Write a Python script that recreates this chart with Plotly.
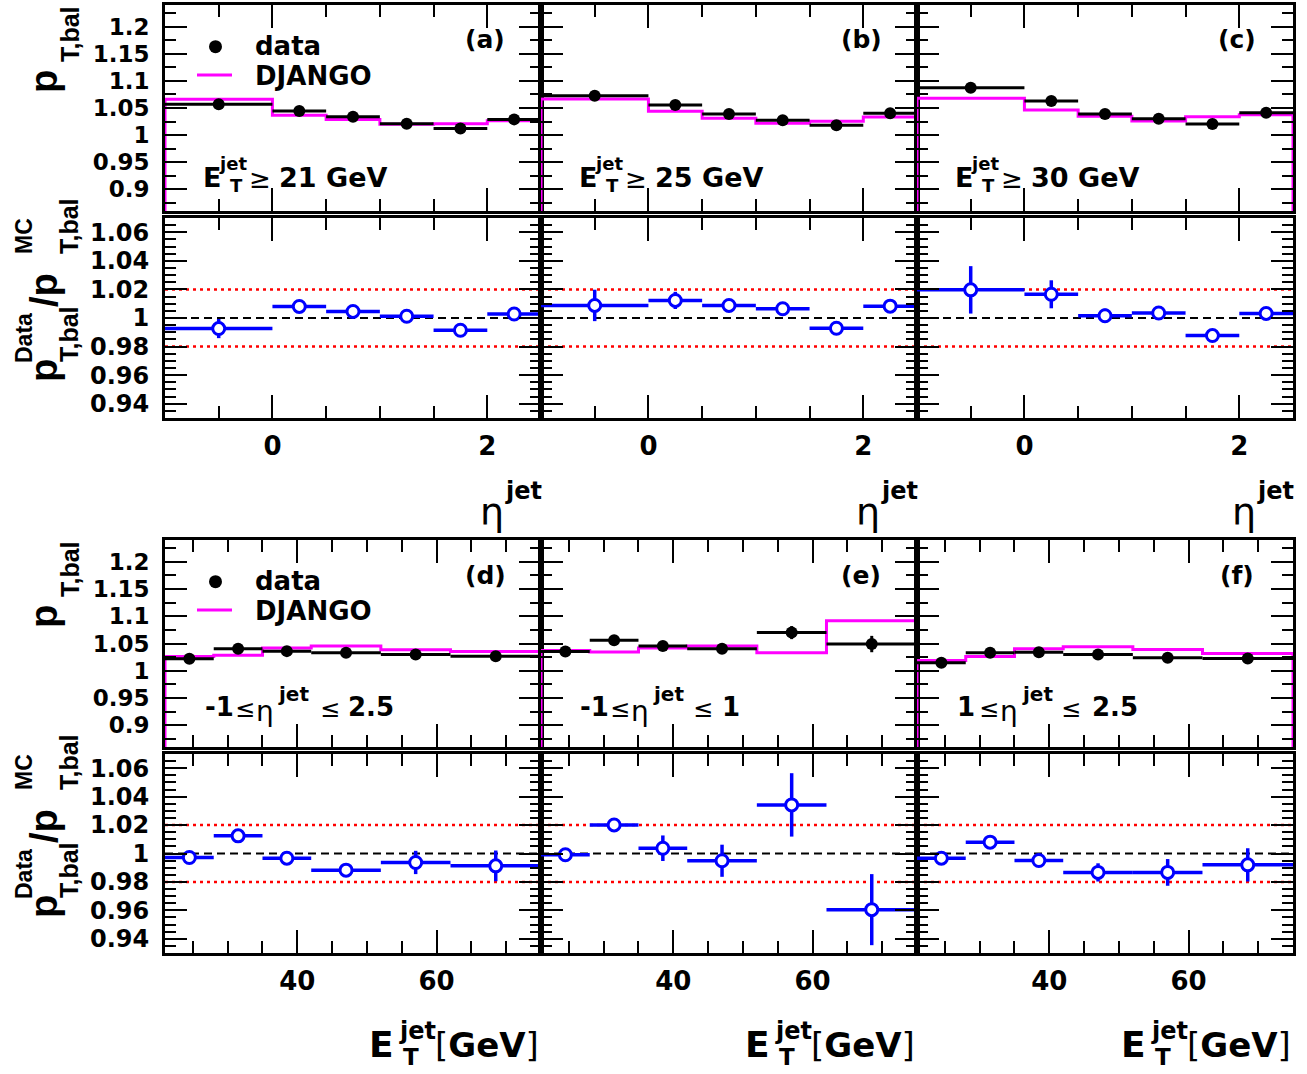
import plotly.graph_objects as go
from plotly.subplots import make_subplots

W, H = 1307, 1074

# ---------------- data ----------------
eta_edges = [-1.0, 0.0, 0.5, 1.0, 1.5, 2.0, 2.5]
et_edges = [21, 28, 35, 42, 52, 62, 75]

# p_T,bal vs eta (panels a, b, c)
data_a = [1.057, 1.0445, 1.034, 1.021, 1.012, 1.029]
data_a_err = [0.003, 0.002, 0.002, 0.002, 0.002, 0.002]
mc_a = [1.066, 1.0365, 1.029, 1.020, 1.021, 1.0266]
ratio_a = [0.9926, 1.0081, 1.0046, 1.0012, 0.9914, 1.0028]
ratio_a_err = [0.0067, 0.002, 0.002, 0.002, 0.002, 0.002]

data_b = [1.0727, 1.0555, 1.0389, 1.0273, 1.018, 1.0402]
data_b_err = [0.004, 0.003, 0.002, 0.002, 0.002, 0.002]
mc_b = [1.0668, 1.044, 1.031, 1.0218, 1.0255, 1.0334]
ratio_b = [1.0088, 1.0123, 1.0088, 1.0065, 0.9928, 1.0083]
ratio_b_err = [0.011, 0.006, 0.002, 0.002, 0.002, 0.002]

data_c = [1.0875, 1.0629, 1.039, 1.0303, 1.0205, 1.0413]
data_c_err = [0.009, 0.004, 0.002, 0.002, 0.002, 0.002]
mc_c = [1.068, 1.0463, 1.035, 1.026, 1.034, 1.0376]
ratio_c = [1.0197, 1.0166, 1.0016, 1.0035, 0.9877, 1.0032]
ratio_c_err = [0.0166, 0.0098, 0.005, 0.002, 0.002, 0.002]

# p_T,bal vs E_T (panels d, e, f)
data_d = [1.0219, 1.0404, 1.036, 1.033, 1.030, 1.0267]
data_d_err = [0.002, 0.002, 0.002, 0.002, 0.003, 0.004]
mc_d = [1.0262, 1.0286, 1.0416, 1.0453, 1.0386, 1.0354]
ratio_d = [0.9972, 1.0124, 0.9967, 0.9883, 0.9937, 0.9913]
ratio_d_err = [0.002, 0.002, 0.002, 0.002, 0.0082, 0.0108]

data_e = [1.0355, 1.0558, 1.0453, 1.0404, 1.070, 1.049]
data_e_err = [0.002, 0.003, 0.003, 0.003, 0.012, 0.015]
mc_e = [1.0373, 1.0342, 1.0416, 1.0453, 1.033, 1.0917]
ratio_e = [0.9991, 1.0201, 1.0037, 0.9949, 1.0342, 0.9605]
ratio_e_err = [0.002, 0.0035, 0.009, 0.0113, 0.0223, 0.025]

data_f = [1.0145, 1.033, 1.0341, 1.0299, 1.0237, 1.0224]
data_f_err = [0.002, 0.002, 0.002, 0.002, 0.003, 0.003]
mc_f = [1.0187, 1.0262, 1.0404, 1.0442, 1.0392, 1.0317]
ratio_f = [0.9967, 1.008, 0.9951, 0.9867, 0.9867, 0.992]
ratio_f_err = [0.002, 0.002, 0.002, 0.0064, 0.0094, 0.0117]

panel_tags = ["(a)", "(b)", "(c)", "(d)", "(e)", "(f)"]
et_cuts = ["21", "25", "30"]
eta_ranges = [("-1", "2.5"), ("-1", "1"), ("1", "2.5")]

upper_range = [0.86, 1.24]
ratio_range = [0.93, 1.07]
upper_tickvals = [0.9, 0.95, 1.0, 1.05, 1.1, 1.15, 1.2]
upper_ticktext = ["0.9", "0.95", "1", "1.05", "1.1", "1.15", "1.2"]
ratio_tickvals = [0.94, 0.96, 0.98, 1.0, 1.02, 1.04, 1.06]
ratio_ticktext = ["0.94", "0.96", "0.98", "1", "1.02", "1.04", "1.06"]
eta_tickvals = [0, 2]
eta_ticktext = ["0", "2"]
et_tickvals = [40, 60]
et_ticktext = ["40", "60"]
ratio_lines = [(1.0, "black", "8px,5px", 2), (1.02, "red", "3px,4px", 2.5), (0.98, "red", "3px,4px", 2.5)]

panels = [
    (data_a, data_a_err, mc_a, ratio_a, ratio_a_err),
    (data_b, data_b_err, mc_b, ratio_b, ratio_b_err),
    (data_c, data_c_err, mc_c, ratio_c, ratio_c_err),
    (data_d, data_d_err, mc_d, ratio_d, ratio_d_err),
    (data_e, data_e_err, mc_e, ratio_e, ratio_e_err),
    (data_f, data_f_err, mc_f, ratio_f, ratio_f_err),
]

FONT = "DejaVu Sans"
TFONT = "Liberation Sans"
MAGENTA = "#ff00ff"
BLUE = "#0000ff"

# ---------------- layout geometry (pixels) ----------------
col_px = [(165, 541), (541, 917), (917, 1293)]
row_px = [(5, 211), (218, 418), (540, 747), (754, 953)]
# x offsets (from panel left) of the eta-range label pieces:
# low value (left), first "≤" (centre), "η" (centre), "jet" (left), second "≤" (centre), high value (left)
eta_label_pos = [(38, 80, 100, 111, 165, 181), (37, 79, 99, 110, 162, 179), (38, 72, 92, 103, 154, 173)]

fig = make_subplots(rows=4, cols=3)


def centers(edges):
    return [(edges[i] + edges[i + 1]) / 2 for i in range(len(edges) - 1)]


def halfw(edges):
    return [(edges[i + 1] - edges[i]) / 2 for i in range(len(edges) - 1)]


for p, (dat, dat_err, mc, rat, rat_err) in enumerate(panels):
    top = p < 3
    col = p % 3 + 1
    urow = 1 if top else 3
    rrow = 2 if top else 4
    edges = eta_edges if top else et_edges
    xc = centers(edges)
    xw = halfw(edges)
    # MC histogram (step line, dropping to zero at the ends)
    hx = [edges[0]] + list(edges) + [edges[-1]]
    hy = [0.0] + list(mc) + [mc[-1], 0.0]
    fig.add_trace(go.Scatter(x=hx, y=hy, mode="lines", line=dict(color=MAGENTA, width=3, shape="hv"),
                             showlegend=False, hoverinfo="skip"), row=urow, col=col)
    fig.add_trace(go.Scatter(x=xc, y=dat, mode="markers",
                             marker=dict(color="black", size=12, symbol="circle"),
                             error_x=dict(type="data", array=xw, color="black", thickness=3, width=0),
                             error_y=dict(type="data", array=dat_err, color="black", thickness=3, width=0),
                             showlegend=False), row=urow, col=col)
    fig.add_trace(go.Scatter(x=xc, y=rat, mode="markers",
                             marker=dict(color="white", size=12, symbol="circle",
                                         line=dict(color=BLUE, width=3)),
                             error_x=dict(type="data", array=xw, color=BLUE, thickness=3.5, width=0),
                             error_y=dict(type="data", array=rat_err, color=BLUE, thickness=3.5, width=0),
                             showlegend=False), row=rrow, col=col)

# axes
for r in range(4):
    for c in range(3):
        n = r * 3 + c + 1
        xa = "xaxis" if n == 1 else f"xaxis{n}"
        ya = "yaxis" if n == 1 else f"yaxis{n}"
        x0, x1 = col_px[c]
        y0, y1 = row_px[r]
        eta = r < 2
        ratio = r in (1, 3)
        common = dict(showline=True, linecolor="black", linewidth=3, mirror="ticks",
                      ticks="inside", tickcolor="black", tickwidth=1.5, showgrid=False,
                      zeroline=False)
        fig.layout[xa].update(
            domain=[x0 / W, x1 / W],
            range=[-1, 2.5] if eta else [21, 75],
            tickmode="array",
            tickvals=eta_tickvals if eta else et_tickvals,
            ticktext=eta_ticktext if eta else et_ticktext,
            ticklen=23,
            minor=dict(ticks="inside", ticklen=12, tickwidth=1.5, tickcolor="black",
                       tickmode="linear", tick0=0, dtick=0.5 if eta else 5),
            showticklabels=ratio,
            tickfont=dict(family=FONT, size=26, color="black", weight="bold"),
            ticklabelstandoff=3,
            **common)
        fig.layout[ya].update(
            domain=[1 - y1 / H, 1 - y0 / H],
            range=ratio_range if ratio else upper_range,
            tickmode="array",
            tickvals=ratio_tickvals if ratio else upper_tickvals,
            ticktext=ratio_ticktext if ratio else upper_ticktext,
            ticklen=22,
            minor=dict(ticks="inside", ticklen=11, tickwidth=1.5, tickcolor="black",
                       tickmode="linear", tick0=0, dtick=0.005 if ratio else 0.025),
            showticklabels=(c == 0),
            tickfont=dict(family=FONT, size=24 if ratio else 23, color="black", weight="bold"),
            ticklabelstandoff=8,
            **common)
        if ratio:
            xr = "x domain" if n == 1 else f"x{n} domain"
            yr = "y" if n == 1 else f"y{n}"
            for val, colr, dash, lw in ratio_lines:
                fig.add_shape(type="line", xref=xr, yref=yr, x0=0, x1=1, y0=val, y1=val,
                              line=dict(color=colr, width=lw, dash=dash), layer="below")


def ann(text, x, y, size, bold=True, angle=0, xanchor="center", yanchor="middle", family=FONT):
    fig.add_annotation(text=text, x=x / W, y=1 - y / H, xref="paper", yref="paper",
                       showarrow=False, textangle=angle, xanchor=xanchor, yanchor=yanchor,
                       font=dict(family=family, size=size, color="black",
                                 weight="bold" if bold else "normal"))


for k in range(3):
    left = col_px[k][0]
    dx = left - 165
    # panel tags
    ann(panel_tags[k], 485 + dx, 40, 25)
    ann(panel_tags[k + 3], 485 + dx, 575, 25)
    # E_T cut labels (top row)
    ann("E", left + 47, 177, 27)
    ann("jet", left + 68, 164, 18)
    ann("T", left + 71, 185, 18)
    ann("≥", left + 95, 179, 26, bold=False)
    ann(f"{et_cuts[k]} GeV", left + 112, 177, 27, xanchor="left")
    # eta range labels (bottom row)
    lo, hi = eta_ranges[k]
    p_lo, p_le1, p_eta, p_jet, p_le2, p_hi = eta_label_pos[k]
    ann(lo, left + p_lo, 707, 26, xanchor="left")
    ann("≤", left + p_le1, 709, 24, bold=False)
    ann("η", left + p_eta, 711, 28, bold=False)
    ann("jet", left + p_jet, 694, 20, xanchor="left")
    ann("≤", left + p_le2, 709, 24, bold=False)
    ann(hi, left + p_hi, 707, 26, xanchor="left")
    # x titles
    ann("η", 492 + dx, 512, 38, bold=False)
    ann("jet", 523 + dx, 491, 24)
    ann("E", 381 + dx, 1044, 36)
    ann("jet", 417 + dx, 1031, 24)
    ann("T", 411 + dx, 1057, 23)
    ann("[<b>GeV</b>]", 487 + dx, 1045, 34, bold=False)

# legends (panels a and d)
for dy in (0, 535):
    fig.add_shape(type="circle", xref="paper", yref="paper",
                  x0=209 / W, x1=222 / W, y0=1 - (53.2 + dy) / H, y1=1 - (40.2 + dy) / H,
                  fillcolor="black", line=dict(color="black", width=0))
    fig.add_shape(type="line", xref="paper", yref="paper",
                  x0=197 / W, x1=232 / W, y0=1 - (75 + dy) / H, y1=1 - (75 + dy) / H,
                  line=dict(color=MAGENTA, width=3))
    ann("data", 253, 46 + dy, 26, xanchor="left")
    ann("DJANGO", 253, 76 + dy, 26, xanchor="left")

# y titles
for dy in (0, 535):
    ann("p", 44, 82 + dy, 38, angle=-90, family=TFONT)
    ann("T,bal", 70, 34 + dy, 25, angle=-90, family=TFONT)
for dy in (0, 536):
    ann("p", 44, 371 + dy, 38, angle=-90, family=TFONT)
    ann("Data", 24, 338 + dy, 23, angle=-90, family=TFONT)
    ann("T,bal", 69, 334 + dy, 25, angle=-90, family=TFONT)
    ann("/p", 44, 290 + dy, 38, angle=-90, family=TFONT)
    ann("MC", 24, 236 + dy, 23, angle=-90, family=TFONT)
    ann("T,bal", 69, 226 + dy, 25, angle=-90, family=TFONT)

fig.update_layout(width=W, height=H, margin=dict(l=0, r=0, t=0, b=0),
                  paper_bgcolor="white", plot_bgcolor="white", showlegend=False)

fig.write_html("out.html", config={"displayModeBar": False},
               post_script="document.body.style.margin='0px';")
